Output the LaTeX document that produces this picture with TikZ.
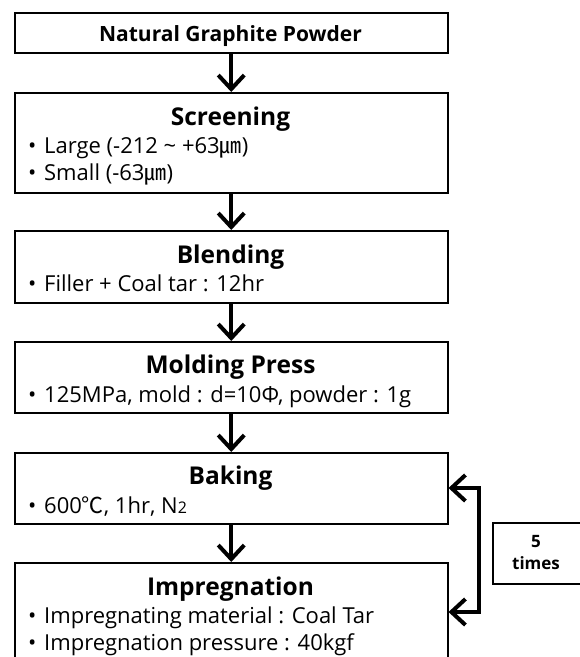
\documentclass[tikz,border=0pt]{standalone}
\usepackage{fontspec}
\setmainfont{Open Sans}
\newfontfamily\cjk{Noto Sans CJK KR}
\usetikzlibrary{arrows.meta}
\begin{document}
\begin{tikzpicture}[x=1pt,y=-1pt,
  box/.style={draw, line width=1.5pt, minimum width=433pt, anchor=north west, inner sep=0pt, fill=white},
  ttl/.style={font=\fontsize{24.5}{28}\selectfont\bfseries, anchor=base, inner sep=0pt},
  itm/.style={font=\fontsize{22}{26}\selectfont, anchor=base west, inner sep=0pt},
  flow/.style={line width=4pt, -{Straight Barb[length=14pt,width=26pt]}},
  loopback/.style={line width=4pt, line join=miter, {Straight Barb[length=14pt,width=26pt]}-{Straight Barb[length=14pt,width=26pt]}}]
\path[use as bounding box, fill=white] (0,0) rectangle (580,657);
\clip (0,0) rectangle (580,657);

\node[box, minimum height=40pt] (ngp) at (14,12) {};
\node[box, minimum height=100pt] (scr) at (14,92) {};
\node[box, minimum height=72pt] (bld) at (14,230) {};
\node[box, minimum height=71pt] (mld) at (14,341) {};
\node[box, minimum height=71pt] (bak) at (14,452) {};
\node[box, minimum height=130pt] (imp) at (14,562) {};
\node[draw, line width=1.5pt, minimum width=93pt, minimum height=61pt, anchor=north west, inner sep=0pt] (rep) at (492,522) {};

\node[font=\fontsize{21}{24}\selectfont\bfseries, anchor=base, inner sep=0pt] (tngp) at (230.5,41.5) {Natural Graphite Powder};

\node[ttl] (tscr) at (230.5,125) {Screening};
\node[itm] (s1) at (28,153) {•\hspace{0.35em}Large (-212 {\char"7E} +63{\cjk ㎛})};
\node[itm] (s2) at (28,180) {•\hspace{0.35em}Small (-63{\cjk ㎛})};

\node[ttl] (tbld) at (230.5,263) {Blending};
\node[itm] (b1) at (28,291) {•\hspace{0.35em}Filler + Coal tar : 12hr};

\node[ttl] (tmld) at (230.5,373) {Molding Press};
\node[itm] (m1) at (28,402) {•\hspace{0.35em}125MPa, mold : d=10Φ, powder : 1g};

\node[ttl] (tbak) at (230.5,484) {Baking};
\node[itm] (k1) at (28,513) {•\hspace{0.35em}600{\cjk ℃}, 1hr, N{\fontsize{16}{18}\selectfont 2}};

\node[ttl] (timp) at (230.5,595) {Impregnation};
\node[itm] (i1) at (28,623) {•\hspace{0.35em}Impregnating material : Coal Tar};
\node[itm] (i2) at (28,650) {•\hspace{0.35em}Impregnation pressure : 40kgf};

\node[font=\fontsize{17}{20}\selectfont\bfseries, anchor=base, inner sep=0pt] (trep1) at (536,547) {5};
\node[font=\fontsize{17}{20}\selectfont\bfseries, anchor=base, inner sep=0pt] (trep2) at (536,569) {times};

\draw[flow] (ngp.south) -- (scr.north);
\draw[flow] (scr.south) -- (bld.north);
\draw[flow] (bld.south) -- (mld.north);
\draw[flow] (mld.south) -- (bak.north);
\draw[flow] (bak.south) -- (imp.north);

\coordinate (la) at (479,488);
\coordinate (lb) at (479,612);
\draw[loopback] (bak.east |- la) -- (la) -- (lb) -- (imp.east |- lb);
\end{tikzpicture}
\end{document}
